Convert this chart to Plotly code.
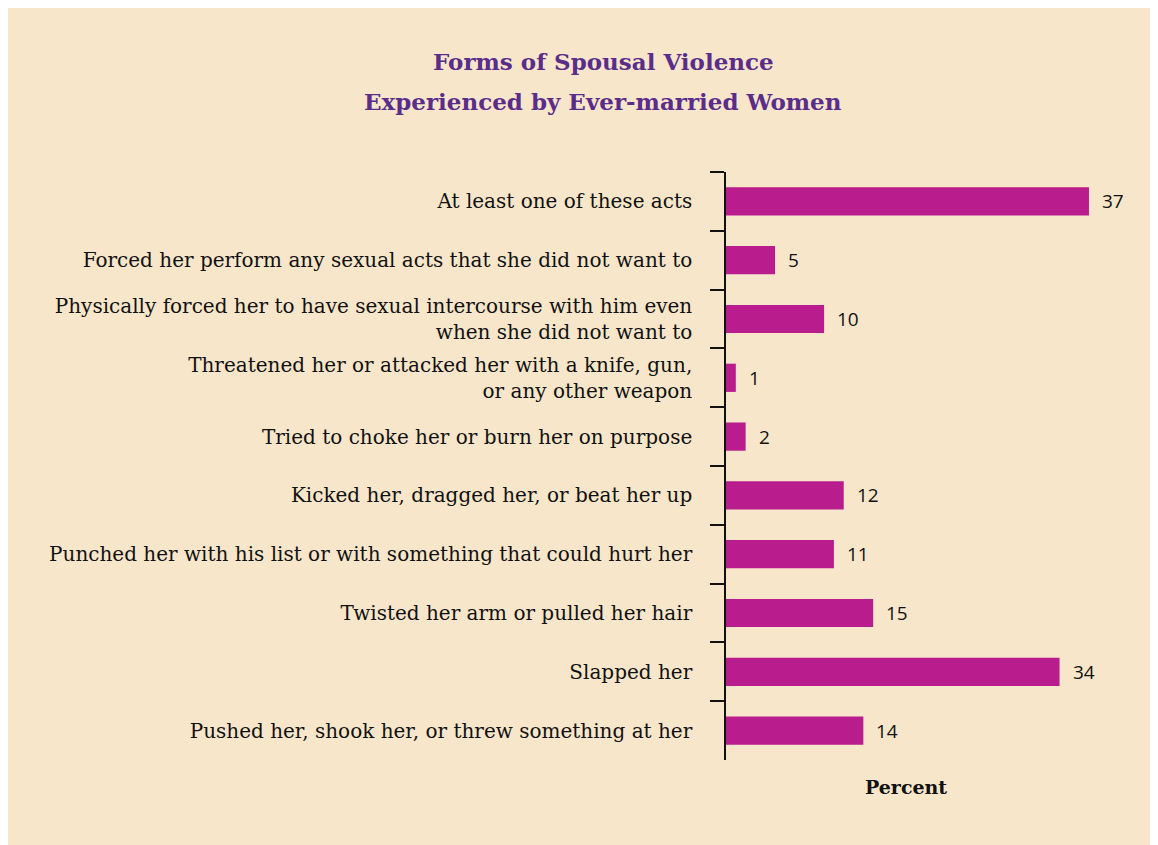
import plotly.graph_objects as go

categories = [
    "At least one of these acts",
    "Forced her perform any sexual acts that she did not want to",
    "Physically forced her to have sexual intercourse with him even<br>when she did not want to",
    "Threatened her or attacked her with a knife, gun,<br>or any other weapon",
    "Tried to choke her or burn her on purpose",
    "Kicked her, dragged her, or beat her up",
    "Punched her with his list or with something that could hurt her",
    "Twisted her arm or pulled her hair",
    "Slapped her",
    "Pushed her, shook her, or threw something at her",
]
values = [37, 5, 10, 1, 2, 12, 11, 15, 34, 14]
title_lines = ["Forms of Spousal Violence", "Experienced by Ever-married Women"]

BG = "#F8E6CA"
BAR = "#B91C8C"
PURPLE = "#5A2D8A"

OFF = 8  # page body margin
W, H = 1158 - OFF, 845 - OFF
L, T = 726 - OFF, 172 - OFF
B = H - (760 - OFF)
R = 28
pw = W - L - R
ph = H - T - B


def px_x(p):
    return (p - OFF - L) / pw


def px_y(p):
    return ((H - B) - (p - OFF)) / ph


fig = go.Figure()
fig.add_trace(go.Bar(
    x=values, y=categories, orientation="h",
    marker=dict(color=BAR, line=dict(width=0)),
    width=0.48, hoverinfo="skip",
))

for c, v in zip(categories, values):
    fig.add_annotation(x=v, y=c, xref="x", yref="y", text=str(v),
                       showarrow=False, xanchor="left", xshift=11,
                       font=dict(family="Open Sans", size=19, color="#111111"))

fig.add_annotation(x=px_x(906), y=px_y(787), xref="paper", yref="paper",
                   text="<b>Percent</b>", showarrow=False,
                   xanchor="center", yanchor="middle",
                   font=dict(family="DejaVu Serif", size=19, color="#111111"))

for line, ypx in zip(title_lines, [62, 102]):
    fig.add_annotation(x=px_x(603), y=px_y(ypx), xref="paper", yref="paper",
                       text=f"<b>{line}</b>", showarrow=False,
                       xanchor="center", yanchor="middle",
                       font=dict(family="DejaVu Serif", size=23, color=PURPLE))

fig.update_layout(
    width=W, height=H,
    margin=dict(l=L, r=R, t=T, b=B, autoexpand=False),
    paper_bgcolor=BG, plot_bgcolor="rgba(0,0,0,0)",
    showlegend=False,
    xaxis=dict(range=[0, pw / 9.81], showgrid=False, zeroline=False,
               showticklabels=False, ticks="", showline=False, fixedrange=True),
    yaxis=dict(categoryorder="array", categoryarray=categories, autorange="reversed",
               showgrid=False, zeroline=False, showline=True, linecolor="#111111",
               linewidth=1.5, ticks="outside", tickson="boundaries", ticklen=14,
               tickwidth=1.5, tickcolor="#111111", ticklabelstandoff=28,
               tickfont=dict(family="DejaVu Serif", size=20, color="#111111")),
)

fig.write_html("out.html")
